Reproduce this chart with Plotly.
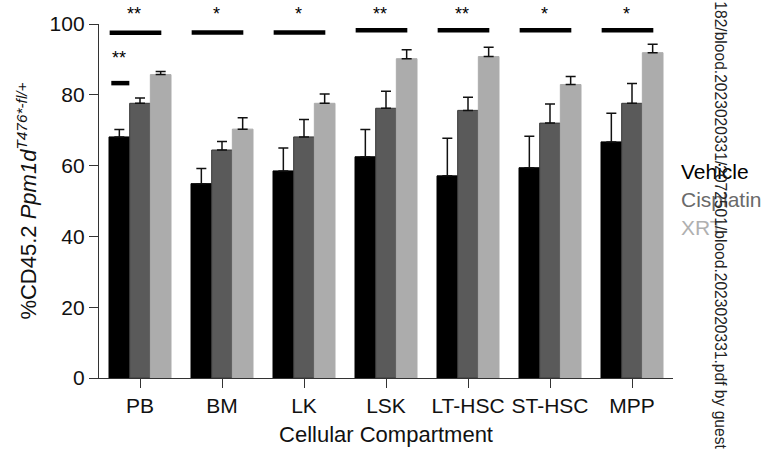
import plotly.graph_objects as go

categories = ["PB", "BM", "LK", "LSK", "LT-HSC", "ST-HSC", "MPP"]
vehicle = [68.1, 54.9, 58.5, 62.5, 57.1, 59.4, 66.7]
vehicle_err = [2.1, 4.3, 6.5, 7.7, 10.6, 8.9, 8.1]
cisplatin = [77.6, 64.4, 68.1, 76.2, 75.6, 72.0, 77.6]
cisplatin_err = [1.5, 2.4, 4.9, 4.8, 3.7, 5.4, 5.6]
xrt = [85.7, 70.3, 77.6, 90.2, 90.8, 82.9, 91.9]
xrt_err = [0.9, 3.2, 2.6, 2.5, 2.6, 2.3, 2.4]

# significance bars (top row) per category
sig_top_labels = ["**", "*", "*", "**", "**", "*", "*"]
sig_top_y = [97.5, 97.6, 97.6, 98.2, 98.2, 98.2, 98.2]
# extra PB comparison
sig_pb_label = "**"
sig_pb_y = 83.3

series_names = ["Vehicle", "Cisplatin", "XRT"]
series_colors = ["#000000", "#5a5a5a", "#acacac"]
legend_text_colors = ["#000000", "#6a6a6a", "#b0b0b0"]

FONT = "Liberation Sans, Arial, Helvetica, sans-serif"

fig = go.Figure()
for name, vals, errs, col in zip(series_names, [vehicle, cisplatin, xrt],
                                 [vehicle_err, cisplatin_err, xrt_err], series_colors):
    fig.add_trace(go.Bar(
        x=categories, y=vals, name=name,
        marker=dict(color=col, line=dict(color="#3a3a3a" if col == "#5a5a5a" else col, width=1)),
        error_y=dict(type="data", array=errs, arrayminus=[0] * len(errs), symmetric=False,
                     color="#111111", thickness=1.5, width=5),
        showlegend=False,
    ))

shapes = []
annotations = []
for i, (lab, yv) in enumerate(zip(sig_top_labels, sig_top_y)):
    shapes.append(dict(type="line", xref="x", yref="y", x0=i - 0.37, x1=i + 0.26,
                       y0=yv, y1=yv, line=dict(color="black", width=4.5)))
    annotations.append(dict(x=i - 0.07, y=1.0616, xref="x", yref="paper", text=lab, showarrow=False,
                            font=dict(family=FONT, size=18, color="black"),
                            xanchor="center", yanchor="top"))
shapes.append(dict(type="line", xref="x", yref="y", x0=-0.35, x1=-0.13,
                   y0=sig_pb_y, y1=sig_pb_y, line=dict(color="black", width=4.5)))
annotations.append(dict(x=-0.26, y=90.3, xref="x", yref="y", text=sig_pb_label, showarrow=False,
                        font=dict(family=FONT, size=18, color="black"),
                        xanchor="center", yanchor="middle"))

# text-only legend
legend_y = [0.583, 0.504, 0.426]
for name, col, yy in zip(series_names, legend_text_colors, legend_y):
    annotations.append(dict(x=1.010, y=yy, xref="paper", yref="paper", text=name, showarrow=False,
                            font=dict(family=FONT, size=21, color=col),
                            xanchor="left", yanchor="middle"))

# side watermark
annotations.append(dict(x=1.0835, y=-0.207, xref="paper", yref="paper",
                        text="182/blood.2023020331/2072501/blood.2023020331.pdf by guest",
                        showarrow=False, textangle=90,
                        font=dict(family=FONT, size=15.6, color="#222222"),
                        xanchor="center", yanchor="bottom"))

fig.update_layout(
    width=764, height=455,
    margin=dict(l=99, r=91, t=22, b=76),
    plot_bgcolor="white", paper_bgcolor="white",
    barmode="group", bargap=0.244, bargroupgap=0,
    font=dict(family=FONT, color="#111111"),
    shapes=shapes, annotations=annotations,
    xaxis=dict(
        range=[-0.5, 6.5], showline=True, linecolor="#333333", linewidth=1.3,
        ticks="outside", ticklen=9, tickwidth=1.3, tickcolor="#333333",
        tickfont=dict(family=FONT, size=21, color="#111111"),
        title=dict(text="Cellular Compartment", font=dict(family=FONT, size=22, color="#111111"), standoff=10),
        showgrid=False, zeroline=False,
    ),
    yaxis=dict(
        range=[0, 100], tickvals=[0, 20, 40, 60, 80, 100], showline=True, linecolor="#333333", linewidth=1.3,
        ticks="outside", ticklen=9, tickwidth=1.3, tickcolor="#333333",
        tickfont=dict(family=FONT, size=21, color="#111111"),
        title=dict(text="%CD45.2 <i>Ppm1d</i><sup><i>T476*-fl/+</i></sup>",
                   font=dict(family=FONT, size=22, color="#111111"), standoff=6),
        showgrid=False, zeroline=False,
    ),
)

fig.write_html("out.html")
